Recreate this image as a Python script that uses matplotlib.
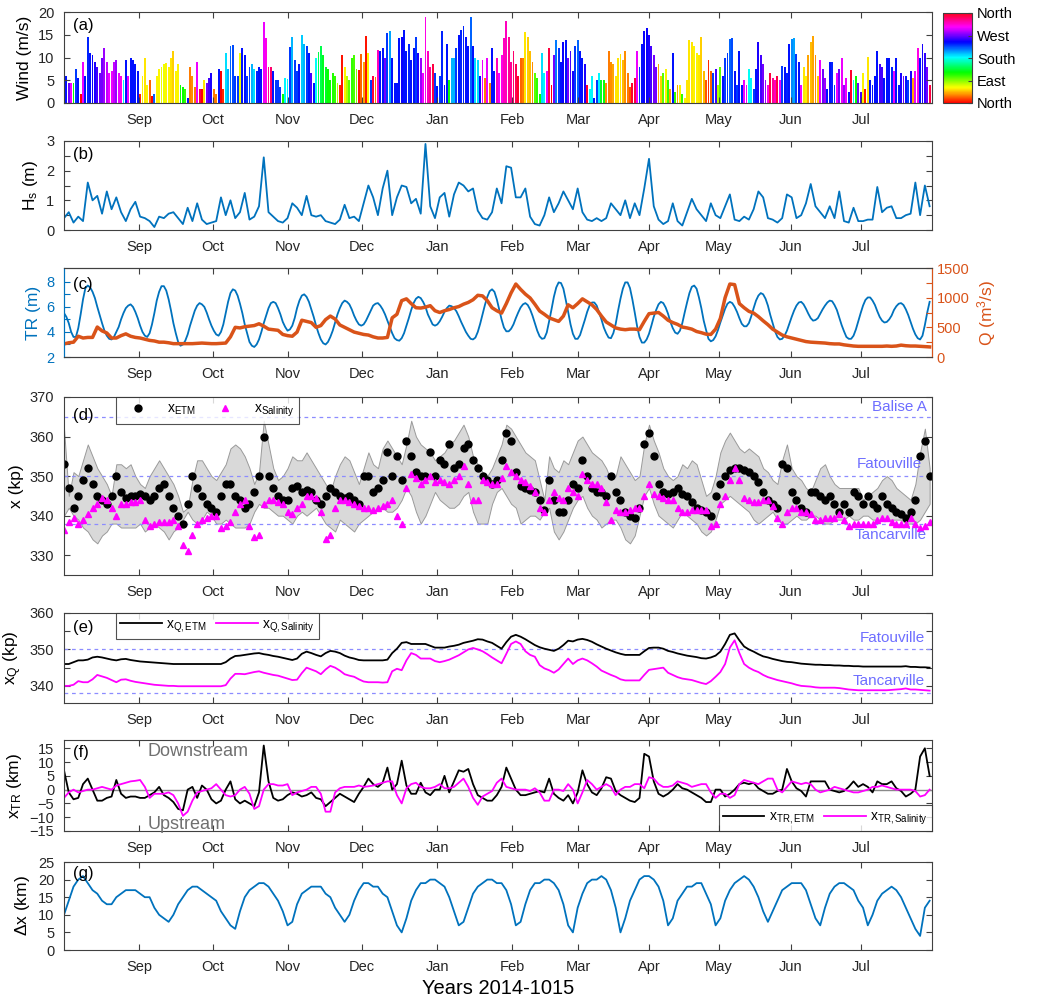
import numpy as np
import matplotlib
matplotlib.use('Agg')
from matplotlib import pyplot as plt
from matplotlib.lines import Line2D

plt.rcParams['font.family'] = ['Liberation Sans', 'DejaVu Sans']
plt.rcParams['mathtext.fontset'] = 'custom'
plt.rcParams['mathtext.rm'] = 'Liberation Sans'
plt.rcParams['mathtext.it'] = 'Liberation Sans:italic'

# time axis: days since 1 Aug 2014 (2-day sampling; daily for wind and tidal range)
days = np.arange(0, 365, 2)
days_daily = np.arange(0, 365)
month_pos = [31.5, 62.7, 94.2, 125.3, 156.9, 188.4, 216.1, 246.0, 275.4, 305.7, 335.1]
month_labels = ['Sep', 'Oct', 'Nov', 'Dec', 'Jan', 'Feb', 'Mar', 'Apr', 'May', 'Jun', 'Jul']

# (a) daily wind speed (m/s)
wind_speed = [3, 6, 4.5, 4.5, 4.5, 7.5, 5.5, 2, 9, 6,
              14.5, 11, 10.5, 9, 8, 6.5, 10, 12, 9, 6.5,
              7, 9, 9.5, 6.5, 6, 5, 9.5, 6, 10, 9.5,
              8.5, 7, 2, 6, 10, 4, 5, 1.5, 2, 6,
              7.5, 8, 8.5, 8.7, 8, 10, 11.4, 7, 8.5, 4,
              3.5, 3, 1, 8, 6, 3.5, 9, 3, 3, 5,
              4.5, 5.5, 6.5, 3, 2, 7.5, 7, 3, 11, 7.5,
              12.5, 12.8, 6, 6, 11, 12, 10.5, 6, 8, 8.5,
              7.5, 7, 8, 7.5, 17.8, 14.3, 8, 8, 7, 5,
              5, 3.5, 2, 5.5, 5.3, 12.3, 14.5, 9.5, 7, 8.5,
              15, 13, 12.5, 11, 6.5, 4.5, 10, 11.3, 12.5, 10.5,
              8, 7.5, 5, 6.5, 6, 4.5, 4, 10.5, 8, 6,
              5, 10, 10.5, 7.5, 7.3, 10.8, 9, 14.7, 11, 5,
              6, 5.8, 11.6, 11.5, 12, 10, 15.3, 15.8, 10, 4.5,
              4.5, 14.3, 14.4, 16, 11.5, 13, 9.5, 12, 14.5, 11,
              10, 6.5, 19, 11.5, 8, 8.5, 6.5, 3.8, 6, 15.8,
              4, 13, 5, 10, 10, 12, 15, 16, 17, 14.5,
              12.5, 19, 12.6, 10, 9.5, 6, 9.5, 5.5, 10, 4.5,
              12, 7, 10, 6.5, 10.5, 14.3, 18, 14.5, 9, 11.5,
              8.5, 6, 10, 10, 15.5, 14.5, 11.5, 9, 6.5, 5.5,
              2, 11, 6.5, 7, 12, 4, 10.5, 13.8, 12, 9,
              13.5, 13.8, 9.8, 11.5, 7, 12.5, 13.8, 11.5, 10, 8.5,
              4, 3, 6, 1, 5, 6.5, 5, 5, 4.5, 11.5,
              9, 8.5, 6, 10, 10.8, 9.5, 11.5, 6.5, 3.5, 4.5,
              5.5, 11.5, 8, 13, 15.8, 16.5, 15, 12.5, 10.5, 8,
              8.5, 6, 6.5, 7.5, 5, 3, 11, 2.5, 4, 4,
              2, 1, 5, 13.8, 13.5, 12.5, 11, 10.5, 14.5, 7,
              5, 9.5, 7, 6.5, 7.5, 4, 8, 6, 10, 11,
              14, 14.3, 7, 4, 11.5, 4, 5, 4, 7.5, 5.5,
              3, 7.5, 13.5, 10.5, 8.5, 5, 4, 6.5, 5.5, 5,
              6, 5, 8.2, 8, 6.5, 13, 14, 14.3, 10.8, 9,
              4, 8, 6, 10.5, 13.5, 14.8, 10.5, 6, 9.5, 7.5,
              5.5, 3, 9, 9, 4, 6.5, 7.5, 9.8, 4, 5.5,
              2.5, 7.3, 5, 6, 4.5, 2.5, 6.5, 3, 10.2, 5,
              4, 6, 11.5, 8.5, 8, 5.5, 9.8, 10, 8, 7,
              10, 4, 6.5, 6, 6, 5, 7, 5.5, 7, 12,
              10, 13, 11, 8, 4]
# (a) daily wind direction (degrees, 0 = from north)
wind_dir = [60, 240, 270, 300, 120, 230, 240, 0, 300, 240,
            235, 240, 245, 250, 260, 270, 270, 280, 290, 300,
            300, 290, 280, 300, 310, 185, 240, 300, 240, 240,
            240, 240, 10, 60, 55, 60, 25, 0, 220, 60,
            60, 65, 65, 60, 60, 55, 50, 60, 60, 120,
            120, 110, 240, 30, 35, 30, 300, 350, 0, 55,
            270, 260, 250, 30, 30, 240, 0, 10, 190, 200,
            220, 225, 230, 230, 65, 240, 240, 230, 230, 200,
            190, 235, 240, 240, 300, 310, 330, 340, 240, 230,
            230, 230, 120, 185, 185, 230, 200, 230, 230, 240,
            195, 200, 230, 240, 260, 240, 180, 140, 140, 130,
            130, 120, 120, 115, 110, 80, 10, 5, 60, 80,
            100, 110, 105, 90, 5, 25, 40, 5, 60, 230,
            350, 30, 320, 240, 240, 270, 230, 205, 240, 240,
            240, 240, 245, 240, 240, 235, 240, 240, 230, 250,
            280, 300, 310, 320, 330, 350, 230, 240, 230, 235,
            240, 240, 120, 200, 200, 230, 240, 235, 235, 240,
            240, 220, 240, 190, 190, 240, 300, 30, 300, 30,
            240, 240, 320, 300, 310, 320, 320, 330, 330, 340,
            345, 355, 25, 30, 55, 50, 45, 35, 100, 110,
            120, 190, 185, 300, 350, 0, 270, 215, 230, 240,
            245, 240, 270, 260, 250, 230, 220, 240, 240, 250,
            355, 180, 185, 240, 230, 185, 130, 125, 35, 30,
            35, 40, 55, 55, 55, 45, 35, 30, 20, 355,
            350, 300, 230, 240, 245, 245, 250, 260, 270, 270,
            40, 50, 100, 60, 110, 40, 240, 110, 40, 60,
            110, 60, 55, 55, 55, 60, 60, 55, 50, 45,
            20, 10, 25, 230, 260, 80, 100, 240, 230, 230,
            220, 225, 240, 230, 240, 240, 300, 300, 180, 185,
            230, 240, 250, 260, 270, 280, 310, 350, 330, 320,
            350, 300, 230, 240, 235, 240, 210, 205, 230, 240,
            300, 55, 60, 40, 45, 40, 35, 50, 300, 270,
            280, 240, 240, 235, 230, 300, 270, 300, 280, 300,
            240, 355, 185, 120, 270, 260, 60, 5, 55, 240,
            240, 240, 240, 260, 260, 240, 240, 240, 235, 300,
            240, 240, 250, 270, 240, 230, 250, 40, 300, 310,
            240, 250, 255, 270, 350]

# (b) significant wave height (m)
hs = [0.4, 0.6, 0.25, 0.45, 0.3, 1.6, 1.0, 1.15, 0.55, 1.3,
      0.7, 1.1, 0.6, 0.3, 0.7, 0.95, 0.45, 0.4, 0.3, 0.1,
      0.45, 0.4, 0.55, 0.6, 0.4, 0.2, 0.75, 0.3, 0.9, 0.35,
      0.2, 0.25, 0.3, 1.1, 0.5, 1.0, 0.4, 0.6, 1.25, 0.35,
      0.45, 0.8, 2.45, 0.6, 0.45, 0.3, 0.25, 0.4, 0.9, 0.75,
      0.5, 1.15, 0.5, 0.45, 0.5, 0.3, 0.25, 0.2, 0.35, 0.85,
      0.4, 0.45, 0.3, 0.9, 1.5, 1.1, 0.5, 1.4, 2.0, 0.5,
      1.1, 1.5, 1.45, 0.9, 1.05, 0.55, 2.9, 0.8, 0.4, 1.1,
      1.25, 0.45, 1.2, 1.6, 1.5, 1.3, 1.4, 0.65, 0.4, 0.35,
      0.6, 1.4, 0.9, 2.15, 2.1, 1.1, 1.1, 1.4, 0.45, 0.2,
      0.15, 0.5, 1.1, 0.6, 0.9, 1.3, 1.0, 0.7, 1.4, 0.6,
      0.35, 0.3, 0.4, 0.3, 0.4, 0.9, 0.7, 0.5, 1.0, 0.4,
      0.9, 0.5, 1.4, 2.4, 0.8, 0.35, 0.2, 0.3, 0.9, 0.3,
      0.15, 0.6, 1.05, 0.7, 0.5, 0.3, 0.9, 0.5, 0.4, 0.8,
      1.2, 0.35, 0.3, 0.45, 0.35, 0.7, 1.3, 1.1, 0.4, 0.35,
      0.25, 0.4, 1.2, 1.1, 0.4, 0.5, 0.9, 1.55, 0.8, 0.6,
      0.4, 0.8, 0.4, 1.3, 0.3, 0.25, 0.75, 0.3, 0.3, 0.35,
      0.35, 1.45, 0.6, 0.75, 0.8, 0.4, 0.4, 0.5, 0.55, 1.6,
      0.5, 1.5, 0.8]

# (c) tidal range (m, daily) and river discharge (m3/s)
tr = [5.5, 5.2, 4.7, 4.0, 3.6, 3.6, 4.3, 5.4, 6.6, 7.5,
      7.7, 7.55, 7.2, 6.7, 6.0, 5.35, 4.7, 4.1, 3.7, 3.45,
      3.4, 3.6, 4.0, 4.4, 5.0, 5.5, 5.9, 6.1, 6.2, 6.0,
      5.6, 5.1, 4.5, 4.0, 3.7, 3.6, 3.9, 4.6, 5.5, 6.5,
      7.2, 7.65, 7.65, 7.3, 6.6, 5.7, 4.7, 3.9, 3.2, 2.9,
      3.0, 3.3, 3.8, 4.5, 5.1, 5.7, 6.1, 6.3, 6.2, 6.0,
      5.55, 5.0, 4.5, 4.1, 3.8, 3.7, 4.0, 4.6, 5.5, 6.4,
      7.1, 7.4, 7.3, 6.9, 6.25, 5.5, 4.6, 3.9, 3.2, 2.9,
      2.8, 3.0, 3.4, 4.0, 4.7, 5.3, 5.9, 6.3, 6.4, 6.3,
      5.9, 5.4, 4.8, 4.4, 4.1, 4.2, 4.5, 5.1, 5.9, 6.5,
      6.9, 7.0, 6.8, 6.4, 5.8, 5.2, 4.5, 3.9, 3.4, 3.1,
      3.0, 3.2, 3.6, 4.1, 4.75, 5.4, 5.9, 6.3, 6.5, 6.4,
      6.2, 5.8, 5.3, 4.9, 4.6, 4.5, 4.6, 4.9, 5.3, 5.7,
      6.1, 6.25, 6.3, 6.1, 5.8, 5.4, 4.9, 4.4, 3.9, 3.5,
      3.35, 3.3, 3.5, 3.9, 4.5, 5.1, 5.75, 6.3, 6.65, 6.8,
      6.7, 6.4, 6.0, 5.4, 5.0, 4.6, 4.5, 4.6, 4.85, 5.2,
      5.6, 5.9, 6.1, 6.05, 5.9, 5.65, 5.25, 4.8, 4.4, 4.0,
      3.7, 3.45, 3.4, 3.55, 4.0, 4.65, 5.4, 6.15, 6.8, 7.25,
      7.4, 7.2, 6.6, 5.8, 5.0, 4.35, 4.05, 4.05, 4.25, 4.6,
      5.1, 5.55, 5.95, 6.2, 6.3, 6.15, 5.8, 5.3, 4.7, 4.1,
      3.65, 3.45, 3.5, 3.95, 4.85, 5.8, 6.8, 7.55, 7.95, 7.9,
      7.45, 6.55, 5.6, 4.6, 3.85, 3.45, 3.45, 3.75, 4.35, 4.95,
      5.6, 6.1, 6.35, 6.35, 6.1, 5.55, 5.0, 4.35, 3.9, 3.55,
      3.5, 3.9, 4.65, 5.7, 6.65, 7.45, 7.95, 7.95, 7.5, 6.6,
      5.55, 4.45, 3.6, 3.15, 3.15, 3.4, 3.85, 4.5, 5.2, 5.75,
      6.2, 6.4, 6.3, 5.95, 5.45, 4.8, 4.3, 3.95, 3.85, 4.1,
      4.7, 5.55, 6.35, 7.1, 7.6, 7.7, 7.45, 6.75, 5.9, 4.9,
      4.15, 3.45, 3.25, 3.35, 3.65, 4.15, 4.75, 5.3, 5.85, 6.25,
      6.4, 6.3, 6.0, 5.6, 5.1, 4.65, 4.45, 4.45, 4.7, 5.25,
      5.9, 6.5, 6.9, 7.1, 7.0, 6.65, 6.1, 5.35, 4.7, 4.05,
      3.6, 3.4, 3.45, 3.7, 4.1, 4.65, 5.2, 5.7, 6.1, 6.35,
      6.4, 6.2, 5.85, 5.45, 5.1, 4.9, 4.95, 5.1, 5.45, 5.8,
      6.1, 6.35, 6.5, 6.45, 6.15, 5.75, 5.15, 4.55, 4.05, 3.6,
      3.45, 3.45, 3.7, 4.2, 4.85, 5.5, 6.1, 6.55, 6.75, 6.75,
      6.5, 6.15, 5.65, 5.2, 4.9, 4.75, 4.8, 5.0, 5.3, 5.75,
      6.05, 6.25, 6.3, 6.15, 5.8, 5.35, 4.8, 4.25, 3.8, 3.5,
      3.4, 3.7, 4.55, 5.55, 6.4]
discharge = [220, 240, 250, 350, 320, 330, 330, 505, 440, 405,
             320, 320, 360, 390, 350, 330, 320, 300, 280, 270,
             250, 250, 240, 225, 225, 225, 225, 225, 230, 235,
             230, 225, 225, 230, 235, 340, 500, 490, 510, 520,
             530, 560, 520, 470, 460, 450, 380, 360, 350, 420,
             620, 600, 580, 500, 530, 630, 690, 640, 540, 500,
             460, 420, 400, 380, 370, 340, 320, 320, 330, 660,
             720, 950, 980, 900, 830, 825, 840, 865, 780, 750,
             780, 800, 830, 850, 890, 920, 965, 1040, 1030, 950,
             830, 780, 740, 900, 1080, 1230, 1140, 1060, 995, 890,
             775, 720, 660, 630, 600, 690, 880, 830, 900, 980,
             930, 880, 800, 690, 590, 540, 490, 470, 460, 470,
             470, 460, 600, 730, 740, 750, 690, 620, 580, 550,
             505, 490, 470, 430, 410, 385, 380, 470, 650, 1000,
             1230, 1220, 900, 830, 770, 740, 680, 610, 545, 470,
             420, 370, 340, 320, 300, 280, 260, 250, 245, 240,
             235, 225, 220, 220, 205, 195, 185, 180, 180, 180,
             180, 180, 180, 185, 180, 185, 200, 190, 185, 185,
             180, 175, 170]

# (d) ETM and salinity front positions (kp) with ETM range
band_hi = [362, 345, 351, 350, 354, 358, 355, 352, 350, 348,
           345, 353, 353, 352, 353, 350, 348, 347, 350, 352,
           354, 352, 350, 348, 345, 341, 342, 349, 354, 354,
           352, 350, 349, 351, 353, 357, 358, 357, 355, 352,
           348, 351, 364, 358, 352, 349, 350, 352, 355, 354,
           354, 356, 354, 352, 350, 348, 346, 350, 353, 355,
           354, 351, 348, 352, 356, 353, 352, 357, 359, 357,
           355, 353, 358, 364, 360, 358, 357, 356, 354, 355,
           356, 358, 359, 361, 363, 360, 355, 353, 351, 350,
           352, 355, 358, 363, 362, 360, 358, 356, 355, 354,
           349, 344, 355, 352, 351, 354, 353, 356, 359, 360,
           358, 356, 355, 354, 352, 349, 350, 355, 353, 351,
           349, 350, 358, 363, 359, 356, 352, 350, 349, 350,
           353, 352, 354, 353, 349, 345, 346, 350, 356, 359,
           361, 359, 357, 356, 357, 356, 355, 352, 351, 349,
           348, 354, 358, 352, 350, 349, 347, 346, 349, 352,
           353, 350, 348, 347, 347, 347, 347, 347, 344, 345,
           346, 347, 349, 350, 349, 347, 346, 345, 344, 348,
           356, 362, 352]
band_lo = [340, 342, 340, 339, 337, 336, 334, 333, 335, 336,
           338, 338, 337, 337, 337, 337, 338, 336, 337, 338,
           337, 336, 334, 336, 337, 339, 341, 339, 338, 339,
           341, 340, 338, 338, 339, 338, 337, 337, 337, 338,
           341, 343, 342, 342, 341, 340, 340, 339, 338, 340,
           341, 340, 341, 342, 340, 338, 337, 336, 339, 338,
           337, 336, 338, 339, 340, 341, 342, 342, 341, 341,
           342, 344, 347, 345, 341, 338, 340, 343, 346, 344,
           343, 342, 342, 343, 345, 346, 341, 338, 338, 338,
           343, 346, 347, 345, 343, 342, 338, 339, 340, 340,
           339, 341, 342, 336, 334, 336, 339, 342, 344, 345,
           342, 340, 339, 337, 338, 339, 339, 337, 334, 333,
           335, 340, 345, 347, 343, 340, 339, 338, 337, 339,
           341, 340, 339, 338, 336, 335, 336, 339, 343, 344,
           345, 344, 343, 342, 341, 339, 338, 339, 340, 341,
           339, 338, 338, 339, 340, 339, 339, 340, 340, 339,
           338, 338, 339, 339, 339, 340, 339, 339, 340, 340,
           339, 339, 339, 339, 339, 339, 339, 338, 338, 338,
           339, 341, 343]
x_etm = [353, 347, 342, 345, 349, 352, 348, 345, 344, 343,
         345, 350, 346, 344.5, 345, 345, 345.5, 345, 344, 345,
         347, 348, 345, 342, 340, 338, 343, 350, 347, 345,
         343, 342, 341, 345, 348, 348, 345, 344, 342, 343,
         346, 350, 360, 350, 347, 345, 344, 344, 347, 347.5,
         346, 346.5, 346, 344, 343, 345, 347, 346, 345, 344.5,
         345, 344, 343, 350, 350, 346, 347, 349, 356, 350,
         355, 349, 359, 355, 351, 350, 350, 356, 350, 354,
         353, 358, 352, 353, 357, 358, 354, 352, 350, 349,
         348, 349, 354, 361, 359, 351, 347.5, 347, 346.5, 346,
         344, 341.5, 349, 344, 341, 341, 344, 348, 347, 354,
         350, 347, 346, 346, 345, 350, 346, 344, 341, 340,
         339.5, 342, 358, 361, 355, 348, 346, 345.5, 346, 347,
         345.5, 345, 343.5, 342, 341.5, 341, 340, 345, 348, 350,
         351.5, 352, 352, 351.5, 351, 350, 348.5, 346, 344, 343,
         342, 353, 352, 346, 344, 342, 341, 346, 346, 345,
         344, 345, 343, 341, 343, 341, 346, 345, 343, 345,
         343, 342, 345, 343, 342, 341, 340.5, 339.5, 341, 344,
         355, 359, 350]
x_sal = [336.5, 338.5, 339.5, 338, 339, 340.5, 342, 343, 344.5, 344,
         342, 340, 343, 343, 343.5, 343.5, 344, 339, 337.5, 338,
         338.5, 338.5, 338.5, 339, 337.5, 332.5, 331, 335, 338, 339,
         339.5, 340, 340, 337, 337.5, 338.5, 341, 343, 344, 337.5,
         334.5, 335, 343, 344, 344, 343.5, 343, 341, 340.5, 342,
         343, 345, 345, 344.5, 341, 334, 335, 342, 344, 344,
         343.5, 343, 342.5, 342, 342, 341.5, 342, 342.5, 343, 344,
         340, 338, 347, 350.5, 349.5, 348, 349, 350, 348.5, 349,
         348.5, 348, 349, 350, 352.5, 348, 344, 344, 349, 348.5,
         348, 348, 349.5, 352.5, 351, 350, 349, 348.5, 347.5, 346,
         342, 341, 344, 346, 344.5, 344, 347, 346, 345, 350.5,
         349, 348, 348, 347, 343.5, 339, 341.5, 341, 341, 341.5,
         342, 342, 345, 348, 345.5, 345, 344.5, 344, 344, 342,
         341, 341, 341.5, 341.5, 341.5, 341.5, 337.5, 338, 343, 345,
         349, 352, 349, 344.5, 344, 343.5, 343.5, 344, 344, 342.5,
         339.5, 338, 341, 342, 342, 341, 341, 340.5, 339, 339,
         339.5, 339.5, 339.5, 340.5, 339, 337.5, 338, 338, 338, 338,
         338, 339, 339.5, 339.5, 338.5, 338, 338, 338, 339.5, 338,
         337, 337.5, 338.5]

# (e) discharge-driven positions (kp)
xq_etm = [346, 346, 346.5, 347, 347, 347.2, 347.8, 348, 347.8, 347.5,
          347.2, 347, 347.3, 347.4, 347.1, 346.9, 346.7, 346.6, 346.5, 346.4,
          346.3, 346.2, 346.1, 346, 346, 346, 346, 346, 346, 346,
          346, 346, 346, 346, 346.5, 347.5, 348.2, 348.3, 348.5, 348.7,
          348.9, 349, 348.7, 348.5, 348.2, 348, 347.7, 347.4, 347.1, 347.5,
          348.8, 349.4, 349, 348.5, 348.1, 349, 349.6, 349.4, 349, 348.3,
          347.8, 347.5, 347.1, 347, 347, 347, 347, 347, 347.2, 349,
          350.2, 351.8, 352, 351.5, 351.5, 351.5, 351.5, 351, 350.5, 350.5,
          350.5, 350.8, 351, 351.3, 351.8, 352.1, 352.4, 352.8, 352.7, 352.2,
          351.8, 351, 350.2, 352, 353.5, 354, 353.5, 352.8, 352, 351.2,
          350.6, 350.2, 349.9, 349.6, 350.2, 351.2, 352.4, 352.2, 352.7, 352.9,
          352.6, 352.1, 351.4, 350.8, 350.2, 349.7, 349.2, 348.8, 348.5, 348.5,
          348.5, 348.5, 349.5, 350.4, 350.5, 350.5, 350.2, 349.6, 349.3, 348.9,
          348.6, 348.3, 348.1, 347.9, 347.6, 347.5, 347.8, 348.3, 349.4, 351.5,
          354, 354.4, 352.5, 350.8, 350, 349.4, 348.7, 348.1, 347.8, 347.4,
          347.1, 346.8, 346.6, 346.5, 346.3, 346.1, 346, 345.9, 345.8, 345.8,
          345.7, 345.7, 345.6, 345.6, 345.5, 345.5, 345.4, 345.4, 345.3, 345.3,
          345.3, 345.3, 345.3, 345.3, 345.3, 345.3, 345.3, 345.4, 345.2, 345.2,
          345.1, 345.1, 345]
xq_sal = [340, 340, 340.3, 341.3, 341, 341, 341.8, 343, 342.6, 342.2,
          341.6, 341, 341.7, 341.8, 341.4, 341.1, 340.9, 340.7, 340.5, 340.3,
          340.2, 340.1, 340, 340, 339.9, 339.9, 339.9, 339.9, 339.9, 339.9,
          339.9, 339.9, 339.9, 339.9, 340.2, 342, 343.3, 343.3, 343.2, 343.5,
          343.8, 344, 343.6, 343.3, 343, 342.8, 342.4, 342, 341.6, 341.7,
          343.5, 345, 344.5, 344, 343.2, 344.5, 345.5, 345, 344.2, 343.2,
          342.8, 342.5, 341.8, 341.2, 341, 341, 341, 340.9, 341, 344,
          344.7, 344.3, 347, 349, 348.5, 347.5, 347.5, 347.5, 346.8, 346.5,
          346.8, 347.2, 347.8, 348.4, 349.2, 350, 350.4, 350, 349.5, 348.7,
          347.8, 347, 346.2, 348.8, 351.5, 352.2, 351.5, 349.5, 348.5, 348,
          345.7, 344.8, 344.3, 343.6, 344.5, 346, 347.5, 346, 347, 347.5,
          347, 346.2, 345.3, 344.2, 343.6, 343, 342.5, 341.8, 341.5, 341.5,
          341.5, 341.5, 343, 344.4, 344.6, 344.8, 345, 343.6, 343, 342.4,
          342, 341.8, 341.6, 341.2, 340.8, 340.5, 341.3, 342.5, 343.8, 346,
          350.5, 352.5, 349, 346, 345, 344.3, 343.8, 343, 342.4, 342,
          341.6, 341.3, 341, 340.7, 340.3, 340, 339.9, 339.8, 339.6, 339.5,
          339.5, 339.5, 339.5, 339.4, 339.2, 339, 338.9, 338.8, 338.8, 338.8,
          338.8, 338.8, 338.8, 338.8, 338.9, 339, 339.1, 339.3, 339, 339,
          338.9, 338.8, 338.7]

# (f) tide-driven displacement (km)
xtr_etm = [7, -1, -3.5, -3, 2, 4, 0, -4, -4, -3,
           -2.5, 3.5, -1.5, -3, -2.5, -2.5, -3, -3, -2, -1,
           1, -2, -3, -4.5, -7, -7.5, 0, 1, -3, 1.5,
           0, -3.5, -5, -4, 0, 3, -3.5, -5, -4, -5,
           -6, -1, 16, 3, -3, -4, -3.5, -2, -1, -1.5,
           -2.5, -2, -1, -3, -3.5, -6, -4.5, -3, -1.5, -2.5,
           -3.5, -4.5, -1.5, 1, 4, 2, 1, 2.5, 8, 0,
           2, 10.5, 1.5, -1.5, -1.5, 2.5, -1, -2, 0, 0,
           5, -1, 3, 7, 6.5, 7.5, 2, -2, -3, -4,
           -4, -2, 1, 8, 4, 0, -2, -2, -1.5, -1,
           -0.5, -1, 4, -1.5, -3, -4, -2, -5, -1, 7,
           2, -1, -2, 0.5, 4.5, 4, -0.5, -2, -3, -4,
           -4.5, -3, 13, 12, 3, -1.5, -2.5, -1.5, 0, 2,
           0.5, 0, -1, -2, -3, -4.5, -4.5, 0, 0, -2.5,
           -1.5, 0, 2, 2.5, 2, 2.5, 0.5, -0.5, -1.5, -1.5,
           -0.5, 0, 7.5, 3, 0.5, -0.5, -2.5, 3, 3, 3,
           3, 0, -0.5, -1, -0.5, 1, 3, 1, 2, 1,
           -1, 3, 2, 2, 3, 0.5, -0.5, -2.5, -1.5, 0,
           12, 15, 5]
xtr_sal = [-3, -1, 0, -1, -0.5, 0, 0, 0.5, 1, 0.5,
           0, 1.5, 2, 2.5, 3, 3.2, 3.5, 1, -3, -1.5,
           -1.5, -1.5, -1, -2, -5, -9.5, -8, -4, -1, -0.5,
           0, 0.5, 2, 0, -2, -2.5, -2, 0, 1, -1.5,
           -7, -6, 0, 2, 2, 1.5, 1.5, 2, -2, -1,
           -0.5, 0, 1, 1, -1.5, -8, -8, -1, 0.5, 1,
           1, 1, 1.5, 1, 1.2, 1.5, 2, 2.5, 3, 3,
           -2, -5, 0.5, 2, 2.5, 1, 0.5, 0.5, 1, 2,
           0.5, 0.5, 1, 2.5, 4, 1, -3, -5.5, -2.5, -1.5,
           -0.5, 2.5, 4, 1, 0.5, 0, 0, 0, -0.5, 0.5,
           -1, -4, -4, 0, 0, -0.5, 2, 0, -5, -1,
           3.5, 2, 0, 1, 2, 1, -2, 0, 1, 1,
           2, 2, 0.5, 4.5, 4, 2, 1, 1, 1.5, 3,
           2.5, 2, 1, 1.5, 2, 2, -1, -3, -1.5, -1.5,
           -3, -2, 2, 3.5, 3, 2.5, 2, 3, 4, 4,
           0, -1, 1, 3, 2.5, 2, 2.5, 2, 0, -1,
           -0.5, 0, 1, 0.5, 0, -0.5, -1, -1, -0.5, 0,
           1, 1, 1.5, 1, 0.5, 0, 0, 0, 0, -0.5,
           -2.5, -2, 0]

# (g) distance between ETM and salinity front (km)
dx = [10, 14, 18, 20, 21, 19, 17, 16, 14, 13,
      13, 15, 16, 17, 17, 17, 16, 15, 15, 12,
      10, 9, 8, 10, 13, 15, 17, 18, 18, 17,
      16, 15, 14, 11, 9, 7, 6, 11, 15, 17,
      18, 19, 19, 18, 16, 14, 11, 7, 8, 13,
      16, 17, 18, 18, 18, 16, 15, 12, 10, 8,
      10, 14, 17, 19, 19, 18, 18, 16, 15, 11,
      7, 5, 9, 14, 17, 19, 19, 20, 20, 19,
      18, 15, 11, 7, 8, 12, 16, 18, 19, 20,
      20, 19, 19, 17, 13, 7, 8, 13, 17, 19,
      19, 20, 20, 19, 17, 13, 7, 5, 12, 16,
      19, 20, 20, 21, 20, 17, 12, 5, 9, 14,
      17, 20, 21, 21, 20, 18, 14, 7, 9, 14,
      16, 18, 18, 19, 19, 16, 13, 7, 9, 14,
      17, 19, 20, 21, 20, 18, 15, 11, 8, 11,
      14, 17, 18, 19, 19, 19, 17, 13, 9, 7,
      12, 16, 18, 19, 19, 18, 17, 14, 12, 7,
      10, 14, 16, 17, 18, 17, 15, 12, 9, 6,
      4, 12, 14]

BLUE = '#0072BD'
ORANGE = '#D95319'
MAG = '#FF00FF'
REF = '#8C8CFF'
REFTXT = '#6E6EFF'
AXC = '#404040'
W, H = 1050, 1008


def rect(top, bottom, left=64, right=932):
    return [left / W, 1 - bottom / H, (right - left) / W, (bottom - top) / H]


def time_axis(ax):
    ax.set_xlim(0, 365)
    ax.set_xticks(month_pos)
    ax.set_xticklabels(month_labels)
    ax.tick_params(direction='in', top=True, right=True, length=4, width=0.8,
                   labelsize=10.5, labelcolor='#262626', color=AXC, pad=7)
    for s in ax.spines.values():
        s.set_color(AXC)
        s.set_linewidth(0.8)


def panel_label(ax, s, y=0.93):
    ax.text(0.0105, y, s, transform=ax.transAxes, fontsize=12, va='top', ha='left')


def small_legend(ax, **kw):
    leg = ax.legend(ncol=2, fontsize=10, frameon=True, fancybox=False, edgecolor='#262626',
                    borderaxespad=0, handletextpad=0.3, columnspacing=0.7,
                    handlelength=3.0, borderpad=0.3, **kw)
    leg.get_frame().set_linewidth(0.8)
    return leg


fig = plt.figure(figsize=(10.5, 10.08), dpi=100)

# (a) wind
ax_a = fig.add_axes(rect(12, 103))
cmap = plt.get_cmap('hsv')
norm = plt.Normalize(0, 360)
ax_a.bar(days_daily, wind_speed, width=0.8, color=cmap(norm(np.array(wind_dir))), linewidth=0)
ax_a.set_ylim(0, 20)
ax_a.set_yticks([0, 5, 10, 15, 20])
ax_a.set_ylabel('Wind (m/s)', fontsize=12.5)
time_axis(ax_a)
panel_label(ax_a, '(a)')
cax = fig.add_axes([943 / W, 1 - 103 / H, 29 / W, 90 / H])
sm = plt.cm.ScalarMappable(cmap=cmap, norm=norm)
cb = fig.colorbar(sm, cax=cax, ticks=[0, 90, 180, 270, 360])
cb.ax.set_yticklabels(['North', 'East', 'South', 'West', 'North'])
cb.ax.tick_params(labelsize=10.5, length=3, direction='in', color=AXC)
cb.outline.set_edgecolor(AXC)
cb.outline.set_linewidth(0.8)

# (b) Hs
ax_b = fig.add_axes(rect(141, 230))
ax_b.plot(days, hs, color=BLUE, lw=1.3)
ax_b.set_ylim(0, 3)
ax_b.set_yticks([0, 0.5, 1, 1.5, 2, 2.5, 3])
ax_b.set_yticklabels(['0', '', '1', '', '2', '', '3'])
ax_b.set_ylabel('H$_\\mathregular{s}$ (m)', fontsize=12.5)
time_axis(ax_b)
panel_label(ax_b, '(b)')

# (c) tidal range and discharge
ax_c = fig.add_axes(rect(268, 357))
ax_c.plot(days_daily, tr, color=BLUE, lw=1.3, zorder=3)
ax_c.set_ylim(2, 9.1)
ax_c.set_yticks([2, 3, 4, 5, 6, 7, 8])
ax_c.set_yticklabels(['2', '', '4', '', '6', '', '8'])
time_axis(ax_c)
ax_c.tick_params(axis='y', colors=BLUE, labelcolor=BLUE)
ax_c.spines['left'].set_color(BLUE)
ax_c.set_ylabel('TR (m)', fontsize=12.5, color=BLUE)
ax_c2 = ax_c.twinx()
ax_c2.plot(days, discharge, color=ORANGE, lw=2.5)
ax_c2.set_ylim(0, 1500)
ax_c2.set_yticks([0, 250, 500, 750, 1000, 1250, 1500])
ax_c2.set_yticklabels(['0', '', '500', '', '1000', '', '1500'])
ax_c2.tick_params(axis='y', direction='in', length=4, colors=ORANGE, labelcolor=ORANGE, labelsize=10.5)
ax_c2.spines['right'].set_color(ORANGE)
ax_c2.spines['left'].set_color(BLUE)
ax_c2.spines['top'].set_color(AXC)
ax_c2.spines['bottom'].set_color(AXC)
ax_c2.set_ylabel('Q (m$^\\mathregular{3}$/s)', fontsize=12.5, color=ORANGE)
panel_label(ax_c, '(c)', y=0.9)

# (d) ETM and salinity front
ax_d = fig.add_axes(rect(397, 575))
ax_d.fill_between(days, band_lo, band_hi, facecolor='#D9D9D9', edgecolor='#9A9A9A', lw=0.7)
for yv in [365, 350, 338]:
    ax_d.axhline(yv, color=REF, ls=(0, (3, 3)), lw=0.9)
ax_d.plot(days, x_etm, 'o', color='k', ms=5, mec='k')
ax_d.plot(days, x_sal, '^', color=MAG, ms=5, mec=MAG)
ax_d.set_ylim(325, 370)
ax_d.set_yticks([330, 340, 350, 360, 370])
ax_d.set_ylabel('x (kp)', fontsize=12.5)
time_axis(ax_d)
ax_d.text(363, 365.6, 'Balise A', color=REFTXT, fontsize=11, ha='right', va='bottom')
ax_d.text(361, 351.2, 'Fatouville', color=REFTXT, fontsize=11, ha='right', va='bottom')
ax_d.text(363, 337, 'Tancarville', color=REFTXT, fontsize=11, ha='right', va='top')
panel_label(ax_d, '(d)', y=0.94)
h_d = [Line2D([], [], ls='none', marker='o', color='k', ms=5),
       Line2D([], [], ls='none', marker='^', color=MAG, ms=5)]
leg = ax_d.legend(h_d, ['x$_\\mathregular{ETM}$', 'x$_\\mathregular{Salinity}$'], ncol=2,
                  loc='upper left', bbox_to_anchor=(0.06, 1.0), fontsize=10, frameon=True,
                  fancybox=False, edgecolor='#262626', borderaxespad=0, handletextpad=0.8,
                  columnspacing=0.9, handlelength=2.5, borderpad=0.35)
leg.get_frame().set_linewidth(0.8)

# (e) discharge-driven positions
ax_e = fig.add_axes(rect(613, 703))
for yv in [350, 338]:
    ax_e.axhline(yv, color=REF, ls=(0, (3, 3)), lw=0.9)
ax_e.plot(days, xq_etm, color='k', lw=1.3, label='x$_\\mathregular{Q,ETM}$')
ax_e.plot(days, xq_sal, color=MAG, lw=1.3, label='x$_\\mathregular{Q,Salinity}$')
ax_e.set_ylim(335.3, 360)
ax_e.set_yticks([340, 345, 350, 355, 360])
ax_e.set_yticklabels(['340', '', '350', '', '360'])
ax_e.set_ylabel('x$_\\mathregular{Q}$ (kp)', fontsize=12.5)
time_axis(ax_e)
ax_e.text(362, 351.2, 'Fatouville', color=REFTXT, fontsize=11, ha='right', va='bottom')
ax_e.text(362, 339.3, 'Tancarville', color=REFTXT, fontsize=11, ha='right', va='bottom')
panel_label(ax_e, '(e)', y=0.92)
small_legend(ax_e, loc='upper left', bbox_to_anchor=(0.06, 1.0))

# (f) tide-driven displacement
ax_f = fig.add_axes(rect(740, 831))
ax_f.axhline(0, color='#8A8A8A', lw=1)
ax_f.plot(days, xtr_etm, color='k', lw=1.3, label='x$_\\mathregular{TR,ETM}$')
ax_f.plot(days, xtr_sal, color=MAG, lw=1.3, label='x$_\\mathregular{TR,Salinity}$')
ax_f.set_ylim(-15, 18)
ax_f.set_yticks([-15, -10, -5, 0, 5, 10, 15])
ax_f.set_ylabel('x$_\\mathregular{TR}$ (km)', fontsize=12.5)
time_axis(ax_f)
ax_f.text(35, 14, 'Downstream', color='#707070', fontsize=13, va='center')
ax_f.text(35, -12.5, 'Upstream', color='#707070', fontsize=13, va='center')
panel_label(ax_f, '(f)', y=0.95)
small_legend(ax_f, loc='lower right')

# (g) distance
ax_g = fig.add_axes(rect(862, 950))
ax_g.plot(days, dx, color=BLUE, lw=1.3)
ax_g.set_ylim(0, 25)
ax_g.set_yticks([0, 5, 10, 15, 20, 25])
ax_g.set_ylabel('$\\mathregular{\\Delta}$x (km)', fontsize=12.5)
time_axis(ax_g)
ax_g.set_xlabel('Years 2014-1015', fontsize=14.5)
panel_label(ax_g, '(g)', y=0.95)

fig.savefig('out.png', dpi=100)
